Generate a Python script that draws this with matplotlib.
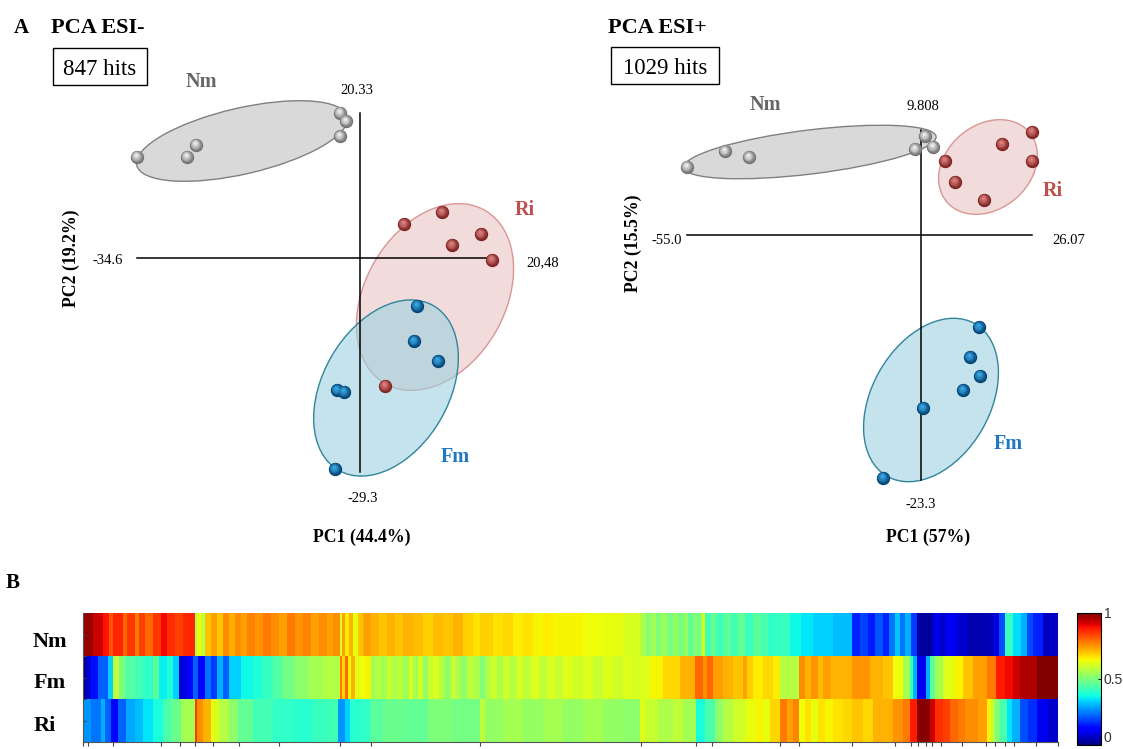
import numpy as np
import matplotlib
matplotlib.use('Agg')
import matplotlib.pyplot as plt
from matplotlib.patches import Ellipse, Rectangle
from matplotlib.colors import to_rgb
from matplotlib.transforms import ScaledTranslation

plt.rcParams['font.family'] = ['Liberation Serif', 'DejaVu Serif']

W, H = 1123, 749

# PCA ESI- scores
neg_nm_pc1 = [-34.6, -26.84, -25.45, -3.10, -2.17, -3.10]
neg_nm_pc2 = [14.25, 14.25, 15.91, 20.33, 19.22, 17.15]
neg_ri_pc1 = [6.83, 12.72, 14.27, 18.77, 20.48, 3.88]
neg_ri_pc2 = [4.98, 6.64, 2.08, 3.60, 0.01, -17.41]
neg_fm_pc1 = [8.84, 8.38, 12.10, -3.57, -2.48, -3.88]
neg_fm_pc2 = [-6.35, -11.19, -13.96, -17.97, -18.24, -28.89]

# PCA ESI+ scores
pos_nm_pc1 = [-55.0, -46.07, -40.43, -1.42, 0.93, 2.81]
pos_nm_pc2 = [6.31, 7.82, 7.25, 8.01, 9.24, 8.20]
pos_ri_pc1 = [5.63, 7.98, 14.80, 19.03, 26.07, 26.07]
pos_ri_pc2 = [6.88, 4.89, 3.19, 8.48, 9.62, 6.88]
pos_fm_pc1 = [13.62, 11.51, 13.86, 9.86, 0.46, -8.94]
pos_fm_pc2 = [-8.83, -11.67, -13.46, -14.79, -16.49, -23.11]

# heat map rows: (last feature of the stretch, scaled value)
nm_row = [(10, .98), (20, .93), (26, .89), (30, .82), (40, .87), (44, .80), (52, .85), (56, .78), (62, .84),
          (70, .80), (78, .85), (84, .90), (92, .86), (100, .84), (112, .87), (114, .55), (118, .64), (122, .58),
          (128, .70), (134, .74), (140, .70), (146, .76), (152, .73), (158, .76), (164, .74), (172, .77),
          (180, .75), (188, .78), (196, .76), (204, .74), (212, .78), (220, .75), (228, .77), (236, .74),
          (244, .76), (250, .74), (257, .76), (259, .60), (262, .74), (266, .66), (270, .72), (275, .63),
          (280, .70), (288, .74), (296, .72), (304, .70), (312, .72), (320, .70), (330, .72), (340, .71),
          (350, .69), (360, .71), (370, .70), (380, .72), (390, .69), (397, .67), (410, .69), (420, .67),
          (430, .68), (440, .66), (450, .67), (460, .65), (470, .66), (480, .65), (500, .65), (520, .64),
          (540, .63), (557, .61), (563, .56), (568, .51), (573, .55), (578, .50), (584, .54), (590, .49),
          (595, .53), (600, .49), (605, .53), (610, .47), (619, .50), (622, .62), (628, .43), (634, .47),
          (640, .42), (648, .46), (655, .43), (662, .47), (670, .42), (678, .46), (685, .44), (695, .41),
          (707, .42), (718, .37), (730, .35), (750, .33), (769, .31), (777, .16), (785, .19), (792, .15),
          (800, .21), (806, .16), (812, .24), (817, .32), (822, .24), (828, .30), (834, .18), (850, .03),
          (856, .10), (862, .07), (875, .10), (885, .07), (900, .04), (910, .05), (916, .08), (922, .20),
          (930, .42), (938, .34), (944, .30), (950, .20), (960, .16), (975, .06)]

fm_row = [(4, .03), (8, .08), (15, .14), (25, .22), (30, .33), (36, .58), (42, .50), (52, .45), (60, .43),
          (70, .41), (76, .46), (84, .36), (90, .39), (96, .33), (104, .08), (110, .13), (115, .22), (122, .12),
          (128, .24), (134, .18), (140, .30), (146, .22), (158, .33), (170, .37), (180, .39), (190, .42),
          (200, .45), (212, .49), (225, .52), (240, .55), (257, .57), (259, .78), (262, .68), (265, .80),
          (268, .65), (272, .72), (276, .62), (282, .64), (288, .65), (292, .54), (298, .57), (304, .55),
          (308, .60), (314, .56), (320, .58), (326, .54), (330, .62), (335, .55), (340, .60), (345, .53),
          (350, .59), (356, .62), (362, .57), (368, .52), (372, .60), (378, .56), (384, .52), (390, .58),
          (397, .56), (402, .50), (408, .56), (414, .60), (420, .56), (426, .60), (434, .57), (440, .61),
          (448, .58), (456, .62), (464, .58), (472, .61), (480, .59), (490, .62), (500, .60), (510, .62),
          (520, .59), (530, .62), (540, .60), (550, .62), (557, .61), (567, .62), (580, .65), (597, .68),
          (612, .72), (620, .80), (624, .76), (630, .80), (640, .74), (650, .72), (660, .70), (664, .74),
          (670, .69), (680, .66), (690, .68), (697, .66), (716, .57), (722, .76), (728, .72), (735, .75),
          (740, .71), (748, .74), (755, .72), (769, .72), (787, .75), (800, .72), (810, .70), (820, .64),
          (827, .55), (830, .42), (834, .30), (843, .10), (847, .30), (852, .46), (860, .55), (870, .62),
          (880, .65), (890, .70), (904, .74), (913, .78), (922, .88), (930, .90), (937, .93), (954, .96),
          (975, 1.0)]

ri_row = [(8, .27), (18, .24), (22, .30), (28, .22), (35, .13), (43, .22), (52, .29), (60, .31), (70, .35),
          (80, .38), (88, .44), (98, .48), (112, .55), (114, .85), (120, .76), (128, .72), (136, .62), (146, .57),
          (155, .52), (170, .47), (190, .43), (210, .41), (230, .40), (247, .42), (255, .43), (262, .27),
          (267, .33), (278, .40), (287, .41), (300, .46), (320, .48), (345, .47), (370, .50), (397, .49),
          (402, .58), (420, .53), (440, .55), (460, .53), (480, .55), (500, .53), (520, .55), (540, .53),
          (557, .52), (562, .62), (575, .59), (590, .56), (600, .58), (613, .55), (622, .38), (632, .44),
          (640, .52), (650, .57), (662, .60), (672, .63), (680, .65), (687, .63), (697, .68), (704, .78),
          (710, .74), (716, .77), (722, .64), (728, .67), (735, .63), (742, .67), (750, .65), (760, .67),
          (769, .68), (780, .70), (790, .68), (797, .72), (810, .72), (820, .75), (827, .78), (834, .88),
          (847, .99), (852, .93), (860, .86), (867, .84), (875, .80), (882, .78), (895, .76), (904, .74),
          (908, .65), (912, .58), (917, .50), (924, .44), (929, .35), (937, .30), (945, .20), (954, .17),
          (965, .10), (975, .07)]

row_labels = ['Nm', 'Fm', 'Ri']
bottom_ticks = [0, 5, 30, 78, 97, 112, 130, 156, 196, 257, 288, 397, 558, 613, 629, 697, 716, 769,
                812, 828, 835, 843, 849, 858, 879, 903, 912, 922, 931, 953, 975]


def px_rect(x0, y0, x1, y1):
    return [x0 / W, 1 - y1 / H, (x1 - x0) / W, (y1 - y0) / H]


def spheres(ax, x, y, dark, light):
    dark = np.array(to_rgb(dark))
    light = np.array(to_rgb(light))
    n = 7
    for i in range(n):
        f = i / (n - 1)
        off = ScaledTranslation(-0.012 * f, 0.018 * f, fig.dpi_scale_trans)
        ax.scatter(x, y, s=92 * (1 - f * 0.93), color=dark + (light - dark) * f ** 1.3, linewidths=0,
                   transform=ax.transData + off, clip_on=False, zorder=5 + i)


def pca_panel(rect, xlim, ylim, cross, groups):
    ax = fig.add_axes(rect)
    ax.patch.set_alpha(0)
    ax.set_xlim(xlim)
    ax.set_ylim(ylim)
    ax.axis('off')
    ax.plot(xlim, [cross, cross], color='black', lw=1.1, zorder=2, clip_on=False)
    ax.plot([0, 0], ylim, color='black', lw=1.1, zorder=2, clip_on=False)
    for x, y, dark, light in groups:
        spheres(ax, x, y, dark, light)
    return ax


fig = plt.figure(figsize=(W / 100, H / 100), dpi=100)

# overlay in image pixels for the ellipses and the annotation
pix = fig.add_axes([0, 0, 1, 1])
pix.set_xlim(0, W)
pix.set_ylim(H, 0)
pix.axis('off')

grey = dict(fc='#d9d9d9', ec='#808080', lw=1)
pink = dict(fc='#f1dbdb', ec='#d99694', lw=1)
blue = dict(fc=(0.62, 0.82, 0.88, 0.6), ec='#31859c', lw=1)
pix.add_patch(Ellipse((242, 141), 216, 66, angle=-13, **grey))
pix.add_patch(Ellipse((435, 297), 200, 140, angle=-60, **pink))
pix.add_patch(Ellipse((386, 388), 190, 126, angle=-60, **blue))
pix.add_patch(Ellipse((810, 152), 254, 44, angle=-7, **grey))
pix.add_patch(Ellipse((988, 167), 108, 84, angle=-40, **pink))
pix.add_patch(Ellipse((931, 400), 176, 118, angle=-60, **blue))

GREY, RED, BLUE = ('#6e6e6e', '#e8e8e8'), ('#7c1f1f', '#d97c7c'), ('#053f70', '#35a4e0')
pca_panel(px_rect(137, 113, 492, 472), (-34.6, 20.48), (-29.3, 20.33), 0.3,
          [(neg_nm_pc1, neg_nm_pc2) + GREY, (neg_ri_pc1, neg_ri_pc2) + RED, (neg_fm_pc1, neg_fm_pc2) + BLUE])
pca_panel(px_rect(687, 130, 1032, 480), (-55.0, 26.07), (-23.3, 9.808), -0.1,
          [(pos_nm_pc1, pos_nm_pc2) + GREY, (pos_ri_pc1, pos_ri_pc2) + RED, (pos_fm_pc1, pos_fm_pc2) + BLUE])


def label(x, y, s, size=9.5, bold=False, color='black', **kw):
    kw.setdefault('ha', 'center')
    pix.text(x, y, s, fontsize=size, fontweight='bold' if bold else 'normal', color=color,
             va='center', **kw)


label(21, 28, 'A', 15, True)
label(51, 28, 'PCA ESI-', 16, True, ha='left')
label(608, 28, 'PCA ESI+', 16, True, ha='left')
label(13, 583, 'B', 15, True)
for x0, y0, x1, y1, s in [(53, 48, 147, 85, '847 hits'), (611, 47, 719, 84, '1029 hits')]:
    pix.add_patch(Rectangle((x0, y0), x1 - x0, y1 - y0, fc='white', ec='black', lw=1))
    label((x0 + x1) / 2, (y0 + y1) / 2 + 3, s, 16.5)

for x, y, s in [(201, 82, 'Nm'), (765, 105, 'Nm')]:
    label(x, y, s, 14.5, True, '#666666')
for x, y, s in [(525, 210, 'Ri'), (1053, 191, 'Ri')]:
    label(x, y, s, 14.5, True, '#c0504d')
for x, y, s in [(455, 457, 'Fm'), (1008, 444, 'Fm')]:
    label(x, y, s, 14.5, True, '#1f78c1')

for x, y, s in [(357, 91, '20.33'), (108, 261, '-34.6'), (543, 263, '20,48'), (363, 498, '-29.3'),
                (923, 106, '9.808'), (667, 240, '-55.0'), (1069, 240, '26.07'), (921, 504, '-23.3')]:
    label(x, y, s, 10.5)

label(362, 537, 'PC1 (44.4%)', 12.8, True)
label(928, 537, 'PC1 (57%)', 12.8, True)
label(71, 258, 'PC2 (19.2%)', 12.8, True, rotation=90)
label(633, 243, 'PC2 (15.5%)', 12.8, True, rotation=90)

# heat map
hm = fig.add_axes(px_rect(83, 613, 1058, 742))
mesh = None
for i, row in enumerate([nm_row, fm_row, ri_row]):
    ends = [e for e, v in row]
    vals = [v for e, v in row]
    mesh = hm.pcolormesh([0] + ends, [i, i + 1], np.array([vals]), cmap='jet', vmin=0, vmax=1)
hm.set_xlim(0, 975)
hm.set_ylim(3, 0)
hm.set_xticks(bottom_ticks)
hm.set_xticklabels([])
hm.set_yticks([0, 0.5, 1, 1.5, 2, 2.5, 3])
hm.set_yticklabels([])
hm.tick_params(axis='x', direction='out', length=3, width=0.8, color='#444444')
hm.tick_params(axis='y', direction='in', length=2, width=0.8, color='#444444')
for sp in ['top', 'right']:
    hm.spines[sp].set_visible(False)
for sp in ['left', 'bottom']:
    hm.spines[sp].set_color('#555555')
for y, s, x in zip([642, 683, 726], row_labels, [50, 50, 45]):
    label(x, y, s, 16, True)

cax = fig.add_axes(px_rect(1077, 613, 1101, 745))
cb = fig.colorbar(mesh, cax=cax)
cb.set_ticks([0, 0.5, 1])
cb.set_ticklabels(['0', '0.5', '1'])
cb.ax.tick_params(length=2, width=0.7, pad=2, labelsize=10, labelcolor='#333333', direction='in')
for t in cb.ax.get_yticklabels():
    t.set_fontfamily('Liberation Sans')
cb.ax.get_yticklabels()[0].set_va('bottom')
cb.outline.set_linewidth(0.8)

fig.savefig('out.png', dpi=100)
